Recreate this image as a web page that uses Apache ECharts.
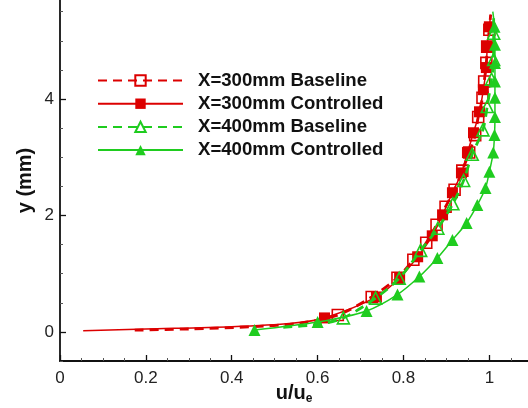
<!DOCTYPE html>
<html>
<head>
<meta charset="utf-8">
<script src="https://cdn.jsdelivr.net/npm/echarts@6/dist/echarts.min.js"></script>
<style>
html,body{margin:0;padding:0;background:#fff;}
#c{width:528px;height:408px;}
</style>
</head>
<body>
<div id="c"></div>
<script>
// ---- data (u/ue, y mm) ----
const seriesNames = ['X=300mm Baseline', 'X=300mm Controlled', 'X=400mm Baseline', 'X=400mm Controlled'];

const base300Tail = [[0.174,0.03],[0.30,0.05],[0.45,0.09],[0.56,0.15]];
const base300Marks = [[0.647,0.29],[0.726,0.60],[0.786,0.93],[0.823,1.24],[0.853,1.53],[0.877,1.84],[0.898,2.15],[0.919,2.44],[0.937,2.77],[0.953,3.08],[0.967,3.38],[0.974,3.69],[0.984,4.02],[0.988,4.30],[0.993,4.62],[0.995,4.90],[1.000,5.19]];
const base300Top = [[1.003,5.45]];

const ctrl300Tail = [[0.054,0.02],[0.20,0.05],[0.40,0.09],[0.54,0.15]];
const ctrl300Marks = [[0.616,0.24],[0.737,0.60],[0.791,0.93],[0.833,1.29],[0.867,1.65],[0.891,2.01],[0.914,2.39],[0.935,2.73],[0.949,3.08],[0.963,3.42],[0.977,3.78],[0.986,4.16],[0.993,4.54],[0.995,4.90],[1.000,5.24]];
const ctrl300Top = [[1.003,5.45]];

const base400Tail = [[0.52,0.08],[0.60,0.13]];
const base400Marks = [[0.660,0.24],[0.735,0.58],[0.790,0.92],[0.840,1.40],[0.880,1.78],[0.915,2.20],[0.940,2.60],[0.960,3.05],[0.985,3.47],[0.995,3.87],[1.005,4.34],[1.010,4.68],[1.010,5.13]];
const base400Top = [[1.010,5.45]];

const ctrl400Tail = [];
const ctrl400Marks = [[0.453,0.034],[0.600,0.17],[0.714,0.36],[0.786,0.64],[0.837,0.95],[0.879,1.27],[0.914,1.58],[0.947,1.87],[0.972,2.18],[0.991,2.47],[1.000,2.75],[1.009,3.08],[1.012,3.38],[1.013,3.69],[1.013,4.02],[1.013,4.30],[1.013,4.62],[1.013,4.93],[1.012,5.24]];
const ctrl400Top = [[1.008,5.50]];

const xTicks = [0, 0.2, 0.4, 0.6, 0.8, 1];
const xTickLabels = ['0', '0.2', '0.4', '0.6', '0.8', '1'];
const yMajorTicks = [0, 2, 4];
const yMinorTicks = [-0.5, 0.5, 1, 1.5, 2.5, 3, 3.5, 4.5, 5, 5.5];

// ---- build ----
function build(tail, marks, top) {
  const out = [];
  tail.forEach(p => out.push({ value: p, symbol: 'none' }));
  marks.forEach(p => out.push({ value: p }));
  top.forEach(p => out.push({ value: p, symbol: 'none' }));
  return out;
}
const RED = '#dc0000';
const GREEN = '#1fcc1f';
const FONT = '"Liberation Sans", Arial, sans-serif';

const chart = echarts.init(document.getElementById('c'), null, { renderer: 'canvas' });
chart.setOption({
  animation: false,
  backgroundColor: '#fff',
  grid: { left: 60, right: 0, top: 0, bottom: 47, containLabel: false, outerBoundsMode: 'none' },
  legend: {
    orient: 'vertical',
    left: 97, top: 71, padding: 0,
    itemWidth: 85, itemHeight: 13, itemGap: 4.2,
    data: seriesNames,
    textStyle: { fontFamily: FONT, fontSize: 18.6, fontWeight: 'bold', color: '#111', padding: [0, 0, 0, 10] }
  },
  xAxis: {
    type: 'value', min: 0, max: 1.09, interval: 0.2,
    name: 'u/u{e|e}', nameLocation: 'middle', nameGap: 20, nameMoveOverlap: false,
    nameTextStyle: { fontFamily: FONT, fontSize: 20, fontWeight: 'bold', color: '#111',
      rich: { e: { fontFamily: FONT, fontSize: 12, fontWeight: 'bold', color: '#111', verticalAlign: 'bottom', padding: [12, 0, 0, 0] } } },
    axisLine: { show: true, onZero: false, lineStyle: { color: '#111', width: 1.8 } },
    axisTick: { show: true, inside: true, length: 6, lineStyle: { color: '#111', width: 1.3 }, customValues: xTicks },
    minorTick: { show: true, splitNumber: 4, length: 3, lineStyle: { color: '#555', width: 1 } },
    axisLabel: { customValues: xTicks, formatter: v => xTickLabels[xTicks.indexOf(+v.toFixed(2))] ?? '', fontFamily: FONT, fontSize: 17, color: '#222', margin: 9 },
    splitLine: { show: false }
  },
  yAxis: [{
    type: 'value', min: -0.5, max: 5.7,
    name: 'y (mm)', nameLocation: 'middle', nameGap: 25, nameMoveOverlap: false,
    nameTextStyle: { fontFamily: FONT, fontSize: 20, fontWeight: 'bold', color: '#111' },
    axisLine: { show: true, onZero: false, lineStyle: { color: '#111', width: 1.8 } },
    axisTick: { show: true, inside: true, length: 6, lineStyle: { color: '#111', width: 1.3 }, customValues: yMajorTicks },
    axisLabel: { customValues: yMajorTicks, fontFamily: FONT, fontSize: 17, color: '#222', margin: 6 },
    splitLine: { show: false }
  }, {
    type: 'value', min: -0.5, max: 5.7, position: 'left',
    axisLine: { show: false },
    axisTick: { show: true, inside: true, length: 3, lineStyle: { color: '#555', width: 1 }, customValues: yMinorTicks },
    axisLabel: { show: false },
    splitLine: { show: false }
  }],
  series: [
    {
      name: seriesNames[0], type: 'line', smooth: 0.3,
      data: build(base300Tail, base300Marks, base300Top),
      symbol: 'rect', symbolSize: 11,
      itemStyle: { color: 'rgba(255,255,255,0)', borderColor: RED, borderWidth: 1.6 },
      lineStyle: { color: RED, width: 2.8, type: [9, 6] },
      z: 3
    },
    {
      name: seriesNames[1], type: 'line', smooth: 0.3,
      data: build(ctrl300Tail, ctrl300Marks, ctrl300Top),
      symbol: 'rect', symbolSize: 11,
      itemStyle: { color: RED, borderColor: RED, borderWidth: 0 },
      lineStyle: { color: RED, width: 1.5 },
      z: 2
    },
    {
      name: seriesNames[2], type: 'line', smooth: 0.3,
      data: build(base400Tail, base400Marks, base400Top),
      symbol: 'triangle', symbolSize: 12,
      itemStyle: { color: 'rgba(255,255,255,0)', borderColor: GREEN, borderWidth: 1.6 },
      lineStyle: { color: GREEN, width: 2.8, type: [9, 6] },
      z: 4
    },
    {
      name: seriesNames[3], type: 'line', smooth: 0.3,
      data: build(ctrl400Tail, ctrl400Marks, ctrl400Top),
      symbol: 'triangle', symbolSize: 12,
      itemStyle: { color: GREEN, borderColor: GREEN, borderWidth: 0 },
      lineStyle: { color: GREEN, width: 1.5 },
      z: 5
    }
  ]
});
</script>
</body>
</html>
